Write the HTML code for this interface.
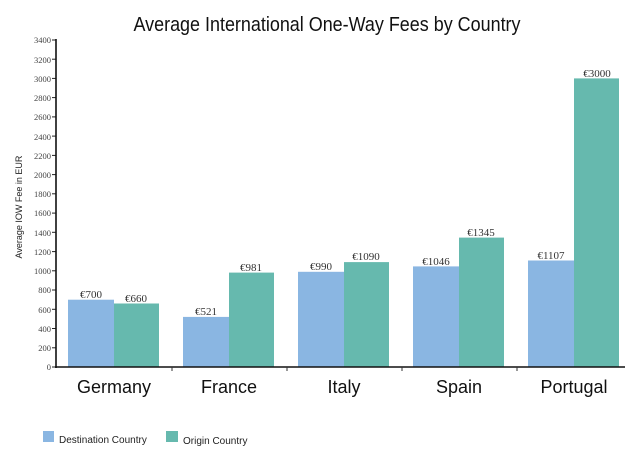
<!DOCTYPE html>
<html><head><meta charset="utf-8"><style>
html,body{margin:0;padding:0;background:#fff;}
svg{display:block;}
</style></head><body>
<svg width="640" height="471" viewBox="0 0 640 471" xmlns="http://www.w3.org/2000/svg">
<rect width="640" height="471" fill="#fff"/>
<text x="327" y="31" font-family="Liberation Sans, sans-serif" font-size="20" text-anchor="middle" textLength="387" lengthAdjust="spacingAndGlyphs" fill="#111">Average International One-Way Fees by Country</text>
<text transform="translate(22,207) rotate(-90)" font-family="Liberation Sans, sans-serif" font-size="9" text-anchor="middle" fill="#222">Average IOW Fee in EUR</text>
<g font-family="Liberation Serif, serif" font-size="8.5" text-anchor="end" fill="#444">
<text x="51" y="370">0</text>
<text x="51" y="351">200</text>
<text x="51" y="332">400</text>
<text x="51" y="313">600</text>
<text x="51" y="293">800</text>
<text x="51" y="274">1000</text>
<text x="51" y="255">1200</text>
<text x="51" y="236">1400</text>
<text x="51" y="216">1600</text>
<text x="51" y="197">1800</text>
<text x="51" y="178">2000</text>
<text x="51" y="159">2200</text>
<text x="51" y="140">2400</text>
<text x="51" y="120">2600</text>
<text x="51" y="101">2800</text>
<text x="51" y="82">3000</text>
<text x="51" y="63">3200</text>
<text x="51" y="43">3400</text>
</g>
<g stroke="#222" stroke-width="1">
<line x1="52" y1="367" x2="56" y2="367"/>
<line x1="52" y1="347.8" x2="56" y2="347.8"/>
<line x1="52" y1="328.5" x2="56" y2="328.5"/>
<line x1="52" y1="309.3" x2="56" y2="309.3"/>
<line x1="52" y1="290" x2="56" y2="290"/>
<line x1="52" y1="270.8" x2="56" y2="270.8"/>
<line x1="52" y1="251.6" x2="56" y2="251.6"/>
<line x1="52" y1="232.3" x2="56" y2="232.3"/>
<line x1="52" y1="213.1" x2="56" y2="213.1"/>
<line x1="52" y1="193.8" x2="56" y2="193.8"/>
<line x1="52" y1="174.6" x2="56" y2="174.6"/>
<line x1="52" y1="155.4" x2="56" y2="155.4"/>
<line x1="52" y1="136.1" x2="56" y2="136.1"/>
<line x1="52" y1="116.9" x2="56" y2="116.9"/>
<line x1="52" y1="97.6" x2="56" y2="97.6"/>
<line x1="52" y1="78.4" x2="56" y2="78.4"/>
<line x1="52" y1="59.2" x2="56" y2="59.2"/>
<line x1="52" y1="40" x2="56" y2="40"/>
</g>
<!-- bars -->
<g>
<rect x="68" y="299.7" width="46" height="67.3" fill="#8ab6e2"/>
<rect x="114" y="303.5" width="45" height="63.5" fill="#66b9ae"/>
<rect x="183" y="316.9" width="46" height="50.1" fill="#8ab6e2"/>
<rect x="229" y="272.6" width="45" height="94.4" fill="#66b9ae"/>
<rect x="298" y="271.8" width="46" height="95.2" fill="#8ab6e2"/>
<rect x="344" y="262.1" width="45" height="104.9" fill="#66b9ae"/>
<rect x="413" y="266.4" width="46" height="100.6" fill="#8ab6e2"/>
<rect x="459" y="237.6" width="45" height="129.4" fill="#66b9ae"/>
<rect x="528" y="260.5" width="46" height="106.5" fill="#8ab6e2"/>
<rect x="574" y="78.4" width="45" height="288.6" fill="#66b9ae"/>
</g>
<g stroke="#111" stroke-width="1.6">
<line x1="56" y1="39" x2="56" y2="368"/>
<line x1="55" y1="367" x2="625" y2="367"/>
</g>
<g stroke="#333" stroke-width="1">
<line x1="172" y1="367" x2="172" y2="371"/>
<line x1="287" y1="367" x2="287" y2="371"/>
<line x1="402" y1="367" x2="402" y2="371"/>
<line x1="517" y1="367" x2="517" y2="371"/>
</g>
<g font-family="Liberation Serif, serif" font-size="11" text-anchor="middle" fill="#333">
<text x="91" y="298">€700</text>
<text x="136" y="302">€660</text>
<text x="206" y="315">€521</text>
<text x="251" y="271">€981</text>
<text x="321" y="270">€990</text>
<text x="366" y="260">€1090</text>
<text x="436" y="265">€1046</text>
<text x="481" y="236">€1345</text>
<text x="551" y="259">€1107</text>
<text x="597" y="77">€3000</text>
</g>
<g font-family="Liberation Sans, sans-serif" font-size="18" text-anchor="middle" fill="#111">
<text x="114" y="393">Germany</text>
<text x="229" y="393">France</text>
<text x="344" y="393">Italy</text>
<text x="459" y="393">Spain</text>
<text x="574" y="393">Portugal</text>
</g>
<rect x="43" y="431" width="11" height="11" fill="#8ab6e2"/>
<text x="59" y="443" font-family="Liberation Sans, sans-serif" font-size="10" fill="#222">Destination Country</text>
<rect x="166" y="431" width="12" height="11" fill="#66b9ae"/>
<text x="183" y="444" font-family="Liberation Sans, sans-serif" font-size="10" fill="#222">Origin Country</text>
</svg>
</body></html>
